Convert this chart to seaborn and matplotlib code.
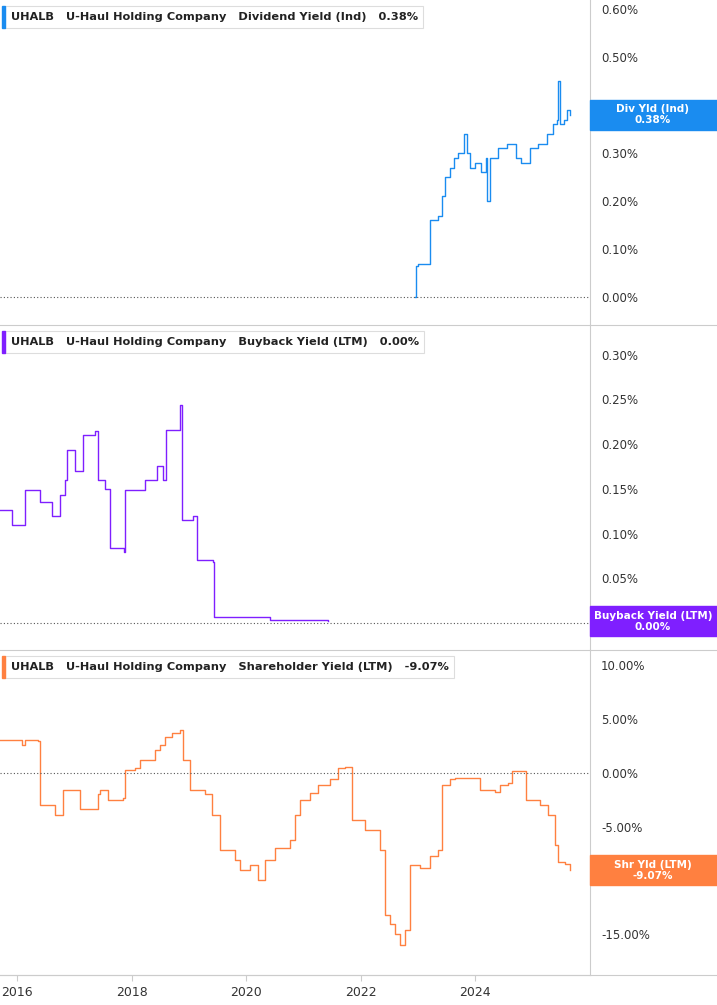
import matplotlib
matplotlib.use("Agg")
import matplotlib.pyplot as plt
import seaborn as sns

# pixel-read keyframes converted to (year, percent)
div_years = [2022.95,2022.96,2023.0,2023.2,2023.21,2023.35,2023.42,2023.47,2023.55,2023.62,2023.7,2023.8,2023.85,2023.9,2024.0,2024.1,2024.18,2024.2,2024.25,2024.4,2024.55,2024.7,2024.8,2024.95,2025.1,2025.25,2025.35,2025.42,2025.44,2025.47,2025.55,2025.6,2025.65]
div_vals  = [0.0,0.065,0.07,0.075,0.16,0.17,0.21,0.25,0.27,0.29,0.30,0.34,0.30,0.27,0.28,0.26,0.29,0.20,0.29,0.31,0.32,0.29,0.28,0.31,0.32,0.34,0.36,0.37,0.45,0.36,0.37,0.39,0.38]

bb_px = [0,12,25,40,52,60,65,67,75,83,95,98,105,110,124,125,145,157,163,166,180,182,193,197,213,214,265,270,328]
bb_vals = [0.126,0.11,0.149,0.135,0.12,0.143,0.16,0.193,0.17,0.21,0.215,0.16,0.15,0.084,0.08,0.149,0.16,0.175,0.16,0.216,0.244,0.115,0.12,0.07,0.068,0.007,0.007,0.004,0.002]

shr_px = [0,22,25,38,40,55,63,80,98,100,108,123,125,135,140,155,160,165,172,180,183,190,205,212,220,235,240,250,258,265,275,290,295,300,310,318,330,338,345,352,365,380,385,390,395,400,405,410,420,430,438,442,450,455,470,480,495,500,508,512,524,526,540,548,555,558,565,570]
shr_vals = [3.1,2.6,3.1,3.0,-3.0,-3.9,-1.6,-3.4,-2.0,-1.6,-2.5,-2.3,0.3,0.5,1.2,2.1,2.6,3.3,3.7,4.0,1.2,-1.6,-2.0,-3.9,-7.2,-8.1,-9.0,-8.6,-10.0,-8.1,-7.0,-6.2,-3.9,-2.5,-1.9,-1.1,-0.6,0.5,0.6,-4.4,-5.3,-7.2,-13.2,-14.1,-15.0,-16.0,-14.6,-8.6,-8.8,-7.7,-7.2,-1.1,-0.6,-0.5,-0.5,-1.6,-1.8,-1.1,-0.9,0.2,0.2,-2.5,-3.0,-3.9,-6.7,-8.3,-8.5,-9.07]

def px2yr(p):
    return [2016 + (x - 17) / 57.3 for x in p]

bb_years = px2yr(bb_px)
shr_years = px2yr(shr_px)
x_ticks = [2016, 2018, 2020, 2022, 2024]

BLUE, PURPLE, ORANGE = "#1a8cf0", "#7f1fff", "#ff8040"
W, H = 717, 1005
fig = plt.figure(figsize=(W/100, H/100), dpi=100)
xl = (2015.703, 2026.0)

panels = [
    (0, 325, div_years, div_vals, (-0.058, 0.619), [0,0.1,0.2,0.3,0.4,0.5,0.6], BLUE,
     "Dividend Yield (Ind)", "0.38%", "Div Yld (Ind)", 0.38),
    (325, 650, bb_years, bb_vals, (-0.030, 0.333), [0,0.05,0.1,0.15,0.2,0.25,0.3], PURPLE,
     "Buyback Yield (LTM)", "0.00%", "Buyback Yield (LTM)", 0.002),
    (650, 975, shr_years, shr_vals, (-18.8, 11.44), [-15,-10,-5,0,5,10], ORANGE,
     "Shareholder Yield (LTM)", "-9.07%", "Shr Yld (LTM)", -9.07),
]
axes = []
for top, bot, xs, ys, yl, yt, col, name, val, tag, last in panels:
    h = bot - top
    ax = fig.add_axes([0, 1 - bot/H, 590/W, h/H])
    sns.lineplot(x=xs, y=ys, ax=ax, color=col, lw=1.0, drawstyle="steps-post")
    ax.set_xlim(*xl); ax.set_ylim(*yl)
    ax.axhline(0, color="#555555", lw=0.8, ls=(0, (1, 2)))
    ax.yaxis.tick_right()
    ax.set_yticks(yt)
    ax.set_yticklabels(["{:.2f}%".format(v) for v in yt], fontsize=8.5, color="#333333")
    ax.tick_params(axis="y", length=0, pad=8)
    for s in ["top", "left", "bottom"]:
        ax.spines[s].set_visible(False)
    ax.spines["right"].set_color("#cccccc")
    ax.set_xticks(x_ticks)
    ax.set_xticklabels([])
    ax.tick_params(axis="x", length=0)
    ax.text(0.018, 1 - 17/h, "UHALB   U-Haul Holding Company   " + name + "   " + val,
            transform=ax.transAxes, fontsize=8.2, fontweight="bold", color="#222222", va="center",
            bbox=dict(boxstyle="square,pad=0.5", fc="white", ec="#dddddd", lw=0.8))
    ax.add_patch(plt.Rectangle((0.003, 1 - 28/h), 0.006, 22/h, transform=ax.transAxes,
                               color=col, clip_on=False, zorder=5))
    yfrac = (last - yl[0]) / (yl[1] - yl[0])
    ax.add_patch(plt.Rectangle((1.0, yfrac - 15/h), 127/590, 30/h, transform=ax.transAxes,
                               color=col, clip_on=False, zorder=6))
    ax.text(1.0 + 63/590, yfrac, tag + "\n" + val, transform=ax.transAxes, ha="center", va="center",
            fontsize=7.5, fontweight="bold", color="white", linespacing=1.1, zorder=7, clip_on=False)
    ax.set_xlabel(""); ax.set_ylabel("")
    axes.append(ax)

axes[-1].set_xticklabels([str(t) for t in x_ticks], fontsize=9, color="#333333")
axes[-1].tick_params(axis="x", length=4, color="#cccccc", pad=4)
axes[-1].spines["bottom"].set_visible(True)
axes[-1].spines["bottom"].set_color("#cccccc")
for yy in [325, 650, 975]:
    fig.add_artist(plt.Line2D([0, 1], [1 - yy/H, 1 - yy/H], color="#cccccc", lw=0.8))
fig.savefig("out.png", dpi=100)
